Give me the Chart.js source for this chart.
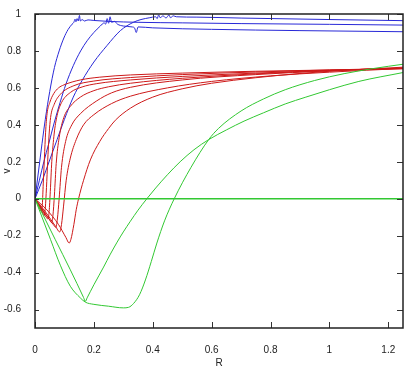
<!DOCTYPE html>
<html>
<head>
<meta charset="utf-8">
<script src="https://cdn.jsdelivr.net/npm/chart.js@4.4.1/dist/chart.umd.min.js"></script>
<style>
  body { margin: 0; background: #fff; }
</style>
</head>
<body>
<canvas id="chart" width="415" height="374"></canvas>
<script>
// tick values on both axes
const xTickValues = [0, 0.2, 0.4, 0.6, 0.8, 1, 1.2];
const yTickValues = [-0.6, -0.4, -0.2, 0, 0.2, 0.4, 0.6, 0.8, 1];

// blue curves [R, v]
const blueA = [[0,0],[0.012,0.15],[0.024,0.3],[0.035,0.43],[0.05,0.58],[0.066,0.71],[0.082,0.8],[0.098,0.87],[0.112,0.915],[0.126,0.945],[0.132,0.955],[0.136,0.972],[0.139,0.958],[0.143,0.975],[0.147,0.962],[0.151,0.992],[0.154,0.962],[0.16,0.97],[0.168,0.962],[0.18,0.968],[0.2,0.965],[0.25,0.96],[0.35,0.955],[0.5,0.952],[0.7,0.948],[1.0,0.944],[1.25,0.94]];
const blueB = [[0,0],[0.015,0.1],[0.03,0.2],[0.047,0.3],[0.065,0.41],[0.085,0.52],[0.105,0.62],[0.13,0.72],[0.155,0.8],[0.177,0.855],[0.2,0.9],[0.222,0.935],[0.235,0.952],[0.24,0.945],[0.245,0.975],[0.25,0.95],[0.255,0.985],[0.26,0.955],[0.27,0.96],[0.28,0.945],[0.3,0.935],[0.33,0.93],[0.338,0.925],[0.344,0.9],[0.35,0.93],[0.4,0.925],[0.6,0.917],[0.9,0.91],[1.25,0.904]];
const blueC = [[0,0],[0.025,0.1],[0.05,0.21],[0.075,0.32],[0.1,0.43],[0.13,0.55],[0.16,0.64],[0.2,0.74],[0.245,0.83],[0.29,0.91],[0.334,0.955],[0.36,0.97],[0.39,0.98],[0.41,0.985],[0.415,0.975],[0.42,0.995],[0.425,0.98],[0.435,0.99],[0.445,0.978],[0.455,0.995],[0.46,0.98],[0.47,0.99],[0.48,0.985],[0.55,0.983],[0.7,0.978],[1.0,0.97],[1.25,0.964]];

// red curves
const red1 = [[0,0],[0.01,-0.03],[0.018,-0.06],[0.022,-0.07],[0.025,-0.03],[0.028,0.08],[0.032,0.22],[0.036,0.36],[0.041,0.46],[0.05,0.52],[0.064,0.57],[0.08,0.6],[0.098,0.616],[0.154,0.643],[0.22,0.658],[0.324,0.67],[0.5,0.68],[0.75,0.69],[1.0,0.697],[1.25,0.703]];
const red2 = [[0,0],[0.015,-0.04],[0.027,-0.08],[0.032,-0.09],[0.035,-0.05],[0.039,0.06],[0.043,0.2],[0.048,0.35],[0.053,0.44],[0.065,0.51],[0.086,0.565],[0.132,0.612],[0.2,0.637],[0.324,0.656],[0.5,0.672],[0.75,0.686],[1.0,0.697],[1.25,0.706]];
const red3 = [[0,0],[0.02,-0.05],[0.038,-0.1],[0.044,-0.11],[0.048,-0.07],[0.052,0.04],[0.057,0.2],[0.065,0.35],[0.075,0.45],[0.09,0.52],[0.12,0.575],[0.16,0.605],[0.21,0.623],[0.324,0.643],[0.5,0.662],[0.75,0.68],[1.0,0.695],[1.25,0.706]];
const red4 = [[0,0],[0.025,-0.06],[0.05,-0.115],[0.057,-0.13],[0.061,-0.09],[0.066,0.02],[0.072,0.19],[0.082,0.33],[0.098,0.44],[0.12,0.5],[0.154,0.55],[0.2,0.585],[0.25,0.606],[0.324,0.625],[0.5,0.652],[0.75,0.676],[1.0,0.694],[1.25,0.707]];
const red5 = [[0,0],[0.03,-0.07],[0.062,-0.14],[0.071,-0.155],[0.076,-0.11],[0.082,0],[0.09,0.17],[0.104,0.31],[0.125,0.4],[0.154,0.46],[0.21,0.53],[0.26,0.573],[0.324,0.603],[0.5,0.643],[0.75,0.672],[1.0,0.692],[1.25,0.707]];
const red6 = [[0,0],[0.035,-0.07],[0.07,-0.15],[0.084,-0.18],[0.09,-0.14],[0.097,-0.04],[0.106,0.1],[0.12,0.22],[0.14,0.32],[0.165,0.4],[0.2,0.455],[0.26,0.515],[0.324,0.555],[0.45,0.6],[0.6,0.635],[0.8,0.665],[1.0,0.685],[1.25,0.705]];
const red7 = [[0,0],[0.04,-0.06],[0.08,-0.14],[0.105,-0.21],[0.116,-0.24],[0.122,-0.22],[0.132,-0.14],[0.14,-0.06],[0.148,0],[0.165,0.1],[0.188,0.21],[0.22,0.31],[0.25,0.38],[0.273,0.425],[0.324,0.49],[0.4,0.55],[0.5,0.595],[0.6,0.625],[0.75,0.655],[0.9,0.678],[1.05,0.695],[1.25,0.712]];

// green curves
const greenZero = [[0,0],[1.25,0]];
const greenA = [[0,0],[0.069,-0.222],[0.12,-0.385],[0.165,-0.535],[0.171,-0.556],[0.177,-0.537],[0.2,-0.466],[0.233,-0.37],[0.256,-0.3],[0.279,-0.235],[0.3,-0.18],[0.324,-0.122],[0.35,-0.062],[0.38,0],[0.41,0.058],[0.45,0.13],[0.493,0.2],[0.54,0.265],[0.59,0.32],[0.651,0.373],[0.71,0.42],[0.776,0.465],[0.85,0.513],[0.92,0.55],[1.0,0.59],[1.1,0.635],[1.25,0.683]];
const greenB = [[0,0],[0.053,-0.222],[0.086,-0.36],[0.12,-0.474],[0.154,-0.537],[0.171,-0.56],[0.2,-0.572],[0.25,-0.582],[0.3,-0.591],[0.318,-0.588],[0.335,-0.567],[0.355,-0.52],[0.375,-0.44],[0.395,-0.34],[0.414,-0.24],[0.44,-0.12],[0.473,0],[0.53,0.17],[0.59,0.32],[0.623,0.38],[0.7,0.475],[0.776,0.54],[0.85,0.59],[0.95,0.64],[1.05,0.677],[1.15,0.705],[1.25,0.728]];

const BLUE = 'rgb(40,40,215)';
const RED = 'rgb(205,25,25)';
const GREEN = 'rgb(50,200,50)';

function series(points, color, width) {
  return {
    data: points.map(p => ({x: p[0], y: p[1]})),
    borderColor: color,
    borderWidth: width || 1,
    pointRadius: 0,
    fill: false,
    cubicInterpolationMode: 'monotone'
  };
}

const datasets = [
  series(greenZero, GREEN, 1.5), series(greenA, GREEN), series(greenB, GREEN),
  series(red1, RED), series(red2, RED), series(red3, RED), series(red4, RED),
  series(red5, RED), series(red6, RED), series(red7, RED),
  series(blueA, BLUE), series(blueB, BLUE), series(blueC, BLUE)
];

const FONT = "'Liberation Sans', Arial, sans-serif";

// gnuplot style box with inward ticks
const frame = {
  id: 'frame',
  afterDatasetsDraw(chart) {
    const {ctx, chartArea: a, scales: {x, y}} = chart;
    ctx.save();
    ctx.strokeStyle = '#333';
    ctx.lineWidth = 1;
    ctx.beginPath();
    xTickValues.forEach(v => {
      const px = Math.round(x.getPixelForValue(v)) + 0.5;
      ctx.moveTo(px, a.bottom); ctx.lineTo(px, a.bottom - 6);
      ctx.moveTo(px, a.top); ctx.lineTo(px, a.top + 6);
    });
    yTickValues.forEach(v => {
      const py = Math.round(y.getPixelForValue(v)) + 0.5;
      ctx.moveTo(a.left, py); ctx.lineTo(a.left + 4, py);
      ctx.moveTo(a.right, py); ctx.lineTo(a.right - 6, py);
    });
    ctx.stroke();
    ctx.lineWidth = 1.5;
    ctx.strokeStyle = '#222';
    ctx.strokeRect(a.left, a.top, a.right - a.left, a.bottom - a.top);
    ctx.restore();
  }
};

const tickLabel = v => String(Math.round(v * 100) / 100);

new Chart(document.getElementById('chart'), {
  type: 'line',
  data: { datasets: datasets },
  options: {
    responsive: false,
    animation: false,
    devicePixelRatio: 1,
    layout: { padding: { top: 14, right: 12, left: 0, bottom: 0 } },
    plugins: { legend: { display: false }, tooltip: { enabled: false } },
    scales: {
      x: {
        type: 'linear',
        min: 0,
        max: 1.25,
        afterBuildTicks: s => { s.ticks = xTickValues.map(v => ({value: v})); },
        afterFit: s => { s.height = 46; },
        grid: { display: false },
        border: { display: false },
        ticks: { color: '#222', padding: 8, maxRotation: 0, callback: tickLabel, font: { family: FONT, size: 10 } },
        title: { display: true, text: 'R', color: '#222', padding: { top: 0, bottom: 5 }, font: { family: FONT, size: 10 } }
      },
      y: {
        type: 'linear',
        min: -0.7,
        max: 1,
        afterBuildTicks: s => { s.ticks = yTickValues.map(v => ({value: v})); },
        afterFit: s => { s.width = 35; },
        grid: { display: false },
        border: { display: false },
        ticks: { color: '#222', padding: 6, callback: tickLabel, font: { family: FONT, size: 10 } },
        title: { display: true, text: 'v', color: '#222', padding: { top: 1, bottom: 0 }, font: { family: FONT, size: 10 } }
      }
    }
  },
  plugins: [frame]
});
</script>
</body>
</html>
